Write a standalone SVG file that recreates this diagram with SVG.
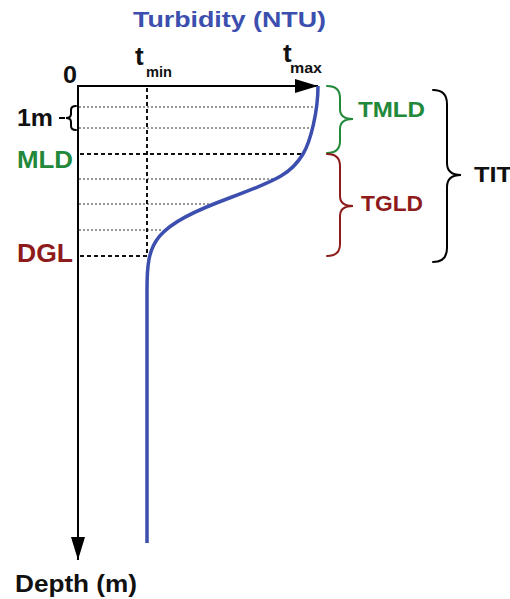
<svg xmlns="http://www.w3.org/2000/svg" width="510" height="599" viewBox="0 0 510 599">
<defs>
<style>
text{font-family:"Liberation Sans",Arial,sans-serif;font-weight:bold}
.blk{fill:#111}
.grn{fill:#22883a}
.red{fill:#8e1b1b}
.blu{fill:#3c4fae}
.dot{stroke:#333;stroke-width:1;stroke-dasharray:2 2;fill:none}
.dash{stroke:#111;stroke-width:2;stroke-dasharray:4 3;fill:none}
.axis{stroke:#000;stroke-width:2;fill:none}
.brace{fill:none;stroke-width:2;stroke-linecap:round}
</style>
<marker id="arr" viewBox="0 0 23 14" refX="23" refY="7" markerWidth="23" markerHeight="14" markerUnits="userSpaceOnUse" orient="auto">
<path d="M0,0 L23,7 L0,14 Z" fill="#000"/>
</marker>
</defs>
<rect width="510" height="599" fill="#fff"/>

<g id="guides">
<path class="dot" d="M79,107H316 M79,128H310 M79,179H276 M79,204H213 M79,230H162"/>
<path class="dash" d="M80,154H301 M80,256H147"/>
<path class="dash" d="M147,88V256"/>
</g>

<g id="connectors">
<line class="axis" x1="78" y1="86" x2="318" y2="86" marker-end="url(#arr)"/>
<line class="axis" x1="78" y1="85" x2="78" y2="560" marker-end="url(#arr)"/>
<path d="M318,86 C318,111 310.7,141.1 303,154 C291.8,172.9 278.9,179.65 232,197 C152.3,226.5 147,241 147,290 L147,543" fill="none" stroke="#3c4fae" stroke-width="3.5"/>
</g>

<g id="title"><text class="blu" x="133" y="27" font-size="22" textLength="193" lengthAdjust="spacingAndGlyphs">Turbidity (NTU)</text></g>
<g id="zero"><text class="blk" x="63" y="83" font-size="23" textLength="14" lengthAdjust="spacingAndGlyphs">0</text></g>
<g id="tmin"><text class="blk" x="135" y="65" font-size="26">t</text><text class="blk" x="146" y="77" font-size="15" textLength="26" lengthAdjust="spacingAndGlyphs">min</text></g>
<g id="tmax"><text class="blk" x="283" y="62" font-size="26">t</text><text class="blk" x="290" y="73" font-size="15" textLength="32" lengthAdjust="spacingAndGlyphs">max</text></g>

<g id="onem">
<text class="blk" x="17" y="126" font-size="23" textLength="36" lengthAdjust="spacingAndGlyphs">1m</text>
<path d="M59,118H65" stroke="#000" stroke-width="2"/>
<path class="brace" stroke="#000" d="M76,106 Q71,106 71,110 L71,114 Q71,118 66,118 Q71,118 71,122 L71,126 Q71,130 76,130"/>
</g>
<g id="mld"><text class="grn" x="17" y="168" font-size="24" textLength="56" lengthAdjust="spacingAndGlyphs">MLD</text></g>
<g id="dgl"><text class="red" x="17" y="262" font-size="25" textLength="56" lengthAdjust="spacingAndGlyphs">DGL</text></g>

<g id="tmld">
<path class="brace" stroke="#22883a" d="M327,86 Q340,86 340,98 L340,109 Q340,119 353,119 Q340,119 340,129 L340,141 Q340,153 327,153"/>
<text class="grn" x="358" y="117" font-size="22" textLength="67" lengthAdjust="spacingAndGlyphs">TMLD</text>
</g>
<g id="tgld">
<path class="brace" stroke="#8e1b1b" d="M327,154 Q340,154 340,166 L340,196 Q340,206 353,206 Q340,206 340,216 L340,244 Q340,256 327,256"/>
<text class="red" x="361" y="211" font-size="22" textLength="62" lengthAdjust="spacingAndGlyphs">TGLD</text>
</g>
<g id="tit">
<path class="brace" stroke="#000" d="M433,90 Q447,90 447,104 L447,163 Q447,175 461,175 Q447,175 447,187 L447,248 Q447,262 433,262"/>
<text class="blk" x="474" y="182" font-size="22" textLength="38" lengthAdjust="spacingAndGlyphs">TIT</text>
</g>
<g id="depth"><text class="blk" x="15" y="592" font-size="24" textLength="122" lengthAdjust="spacingAndGlyphs">Depth (m)</text></g>
</svg>
